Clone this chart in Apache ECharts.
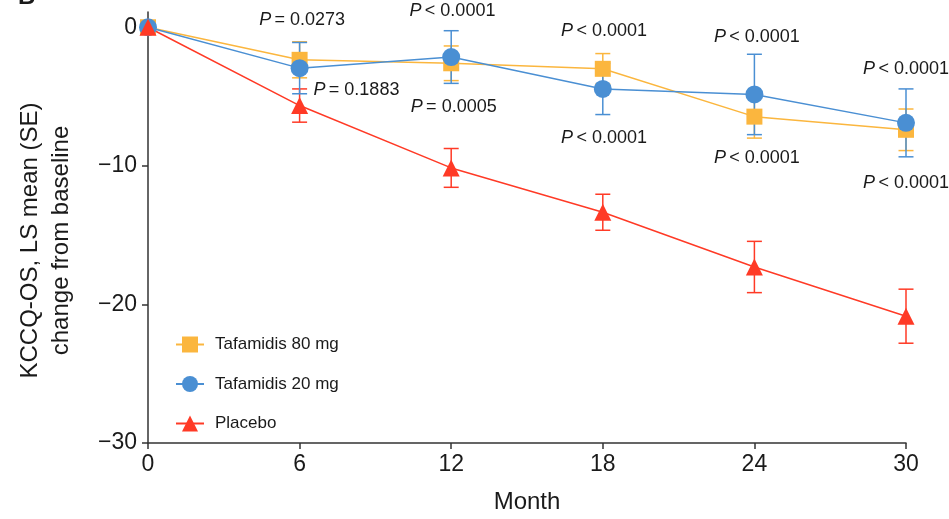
<!DOCTYPE html>
<html>
<head>
<meta charset="utf-8">
<script src="https://cdn.jsdelivr.net/npm/echarts@6/dist/echarts.min.js"></script>
<style>
  html, body { margin: 0; padding: 0; background: #fff; }
  #main { width: 949px; height: 519px; }
</style>
</head>
<body>
<div id="main"></div>
<script>
// months on the x axis
var months = [0, 6, 12, 18, 24, 30];

// LS mean change from baseline
var taf80 = [0, -2.35, -2.6, -3.0, -6.45, -7.4];
var taf20 = [0, -2.95, -2.15, -4.45, -4.85, -6.9];
var placebo = [0, -5.65, -10.15, -13.35, -17.3, -20.85];

// standard errors
var taf80Se = [0, 1.3, 1.25, 1.1, 1.55, 1.5];
var taf20Se = [0, 1.85, 1.9, 1.85, 2.9, 2.45];
var placeboSe = [0, 1.2, 1.4, 1.3, 1.85, 1.95];

// p-value annotations (vs placebo)
var pTaf80 = ['= 0.0273', '< 0.0001', '< 0.0001', '< 0.0001', '< 0.0001'];
var pTaf20 = ['= 0.1883', '= 0.0005', '< 0.0001', '< 0.0001', '< 0.0001'];

var yTicks = [-30, -20, -10, 0];
var xTicks = [0, 6, 12, 18, 24, 30];

// where the p labels sit, in axis units [month, value]
var pTaf80Pos = [[6.1, 0.5], [12.05, 1.2], [18.05, -0.3], [24.1, -0.7], [30, -3.0]];
var pTaf20Pos = [[8.25, -4.5], [12.1, -5.75], [18.05, -8.0], [24.1, -9.45], [30, -11.25]];

var ORANGE = '#FBB63E', BLUE = '#4A8FD3', RED = '#FF3A26';
var FONT = '"Liberation Sans", Arial, Helvetica, sans-serif';
var TXT = '#1a1a1a';

var myChart = echarts.init(document.getElementById('main'));

function pairs(ys) {
    return months.map(function (m, i) { return [m, ys[i]]; });
}

function errData(ys, se) {
    return months.map(function (m, i) { return [m, ys[i] - se[i], ys[i] + se[i]]; }).slice(1);
}

function errSeries(name, ys, se, color) {
    return {
        type: 'custom',
        name: name + ' SE',
        data: errData(ys, se),
        z: 3,
        silent: true,
        renderItem: function (params, api) {
            var lo = api.coord([api.value(0), api.value(1)]);
            var hi = api.coord([api.value(0), api.value(2)]);
            var w = 7.5;
            var st = { stroke: color, lineWidth: 1.5 };
            return {
                type: 'group',
                children: [
                    { type: 'line', shape: { x1: lo[0], y1: lo[1], x2: hi[0], y2: hi[1] }, style: st },
                    { type: 'line', shape: { x1: lo[0] - w, y1: lo[1], x2: lo[0] + w, y2: lo[1] }, style: st },
                    { type: 'line', shape: { x1: hi[0] - w, y1: hi[1], x2: hi[0] + w, y2: hi[1] }, style: st }
                ]
            };
        }
    };
}

function pSeries(texts, pos) {
    return {
        type: 'scatter',
        name: 'p',
        symbolSize: 0,
        clip: false,
        silent: true,
        itemStyle: { opacity: 1, color: TXT },
        data: pos.map(function (p, i) { return { value: p, txt: texts[i] }; }),
        label: {
            show: true,
            position: 'inside',
            formatter: function (p) { return '{i|P} {n|' + p.data.txt + '}'; },
            textBorderWidth: 0,
            rich: {
                i: { fontStyle: 'italic', fontFamily: FONT, fontSize: 18, color: TXT, textBorderWidth: 0 },
                n: { fontFamily: FONT, fontSize: 18, color: TXT, textBorderWidth: 0 }
            }
        }
    };
}

function lineSeries(name, ys, color, symbol, size) {
    return {
        type: 'line',
        name: name,
        data: pairs(ys),
        z: 5,
        symbol: symbol,
        symbolSize: size,
        showAllSymbol: true,
        itemStyle: { color: color, opacity: 1 },
        lineStyle: { color: color, width: 1.5 }
    };
}

var option = {
    animation: false,
    backgroundColor: '#fff',
    textStyle: { fontFamily: FONT },
    grid: { left: 148, right: 43, top: 12, height: 433, containLabel: false },
    legend: {
        data: ['Tafamidis 80 mg', 'Tafamidis 20 mg', 'Placebo'],
        orient: 'vertical',
        left: 170,
        top: 331,
        itemWidth: 28,
        itemHeight: 20,
        itemGap: 22.5,
        textStyle: { fontFamily: FONT, fontSize: 17, color: TXT, padding: [0, 0, 0, 6] }
    },
    xAxis: {
        type: 'value',
        min: 0,
        max: 30,
        name: 'Month',
        nameLocation: 'middle',
        nameGap: 47,
        nameTextStyle: { fontFamily: FONT, fontSize: 24, color: TXT },
        splitLine: { show: false },
        axisLine: { onZero: false, lineStyle: { color: '#333', width: 1.5 } },
        axisTick: { show: true, length: 6, customValues: xTicks, lineStyle: { color: '#333', width: 1.5 } },
        axisLabel: { customValues: xTicks, fontFamily: FONT, fontSize: 23, color: TXT, margin: 10 }
    },
    yAxis: {
        type: 'value',
        min: -30,
        max: 1.1,
        name: 'KCCQ-OS, LS mean (SE)\nchange from baseline',
        nameLocation: 'middle',
        nameRotate: 90,
        nameGap: 71,
        nameTextStyle: { fontFamily: FONT, fontSize: 24, color: TXT, lineHeight: 31, padding: [0, 26, 0, 0] },
        splitLine: { show: false },
        axisLine: { onZero: false, lineStyle: { color: '#333', width: 1.5 } },
        axisTick: { show: true, length: 6, customValues: yTicks, lineStyle: { color: '#333', width: 1.5 } },
        axisLabel: {
            customValues: yTicks,
            fontFamily: FONT, fontSize: 23, color: TXT, margin: 11,
            formatter: function (v) { return v < 0 ? '\u2212' + Math.abs(v) : String(v); }
        }
    },
    series: [
        errSeries('Placebo', placebo, placeboSe, RED),
        errSeries('Tafamidis 80 mg', taf80, taf80Se, ORANGE),
        errSeries('Tafamidis 20 mg', taf20, taf20Se, BLUE),
        lineSeries('Tafamidis 80 mg', taf80, ORANGE, 'rect', 16),
        lineSeries('Tafamidis 20 mg', taf20, BLUE, 'circle', 18),
        lineSeries('Placebo', placebo, RED, 'triangle', 17),
        pSeries(pTaf80, pTaf80Pos),
        pSeries(pTaf20, pTaf20Pos)
    ],
    graphic: [
        { type: 'text', left: 18, top: -15, style: { text: 'B', fontFamily: FONT, fontSize: 24, fontWeight: 'bold', fill: TXT } }
    ]
};

myChart.setOption(option);
</script>
</body>
</html>
